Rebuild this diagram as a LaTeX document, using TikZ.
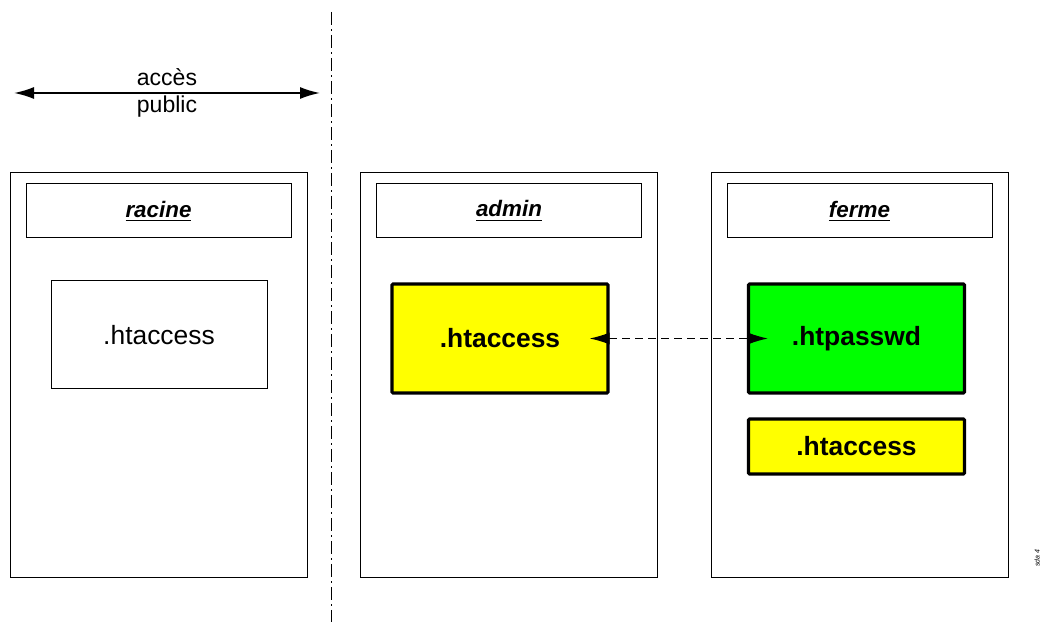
\documentclass[tikz,border=0pt]{standalone}
\usepackage{fontspec}
\setmainfont{Liberation Sans}
\usepackage{xcolor}
\usepackage{tikz}
\usetikzlibrary{arrows.meta}

\definecolor{fileyellow}{RGB}{255,255,0}
\definecolor{filegreen}{RGB}{0,255,0}

\begin{document}
\begin{tikzpicture}[
    x=0.5pt, y=-0.5pt,
    >={Latex[length=10pt,width=6pt]},
    every node/.style={font=\fontsize{11.5}{13.5}\selectfont},
    dir/.style={draw, line width=0.5pt, minimum width=148.5pt, minimum height=202.5pt, inner sep=0pt},
    dirname/.style={draw, line width=0.5pt, minimum width=132.5pt, minimum height=27pt, inner sep=0pt, font=\fontsize{11.2}{13.5}\selectfont\bfseries\itshape},
    plainfile/.style={draw, line width=0.5pt, minimum width=108pt, minimum height=54pt, inner sep=0pt, font=\fontsize{13.2}{15}\selectfont},
    keyfile/.style={draw, line width=1.6pt, rounded corners=0.6pt, minimum width=108pt, minimum height=54.5pt, inner sep=0pt, font=\fontsize{13.2}{15}\selectfont\bfseries},
    border/.style={line width=0.5pt, dash pattern=on 6.5pt off 2.2pt on 0.6pt off 2.2pt}
]
\useasboundingbox (0,0) rectangle (1041,625);

% public side
\coordinate (pubL) at (14,93);
\coordinate (pubR) at (320,93);
\draw[<->, line width=0.9pt] (pubL) -- (pubR);
\node[align=center] (pubtxt) at (167,93) {accès\\[0.4pt]public};

\coordinate (sepT) at (331,12);
\coordinate (sepB) at (331,622);
\draw[border] (sepT) -- (sepB);

% directories
\node[dir] (racine) at (158.5,375.5) {};
\node[dir] (admin) at (509,375.5) {};
\node[dir] (ferme) at (859.5,375.5) {};

\node[dirname] (racineT) at (158.5,211) {\underline{racine}};
\node[dirname] (adminT) at (509,211) {\underline{admin}};
\node[dirname] (fermeT) at (859.5,211) {\underline{ferme}};

% files
\node[plainfile] (rootacc) at (159,335) {.htaccess};
\node[keyfile, fill=fileyellow] (adminacc) at (500,338.5) {.htaccess};
\node[keyfile, fill=filegreen] (fermepw) at (856.5,338.5) {.htpasswd};
\node[keyfile, fill=fileyellow, minimum height=27.5pt] (fermeacc) at (856.5,446.5) {.htaccess};

\draw[<->, line width=0.6pt, dash pattern=on 4pt off 2.5pt, shorten <=-10pt, shorten >=-10.5pt] (adminacc.east) -- (fermepw.west);

\node[rotate=90, font=\fontsize{3.5}{4}\selectfont\itshape] (ref) at (1037,558) {sda 4};
\end{tikzpicture}
\end{document}
